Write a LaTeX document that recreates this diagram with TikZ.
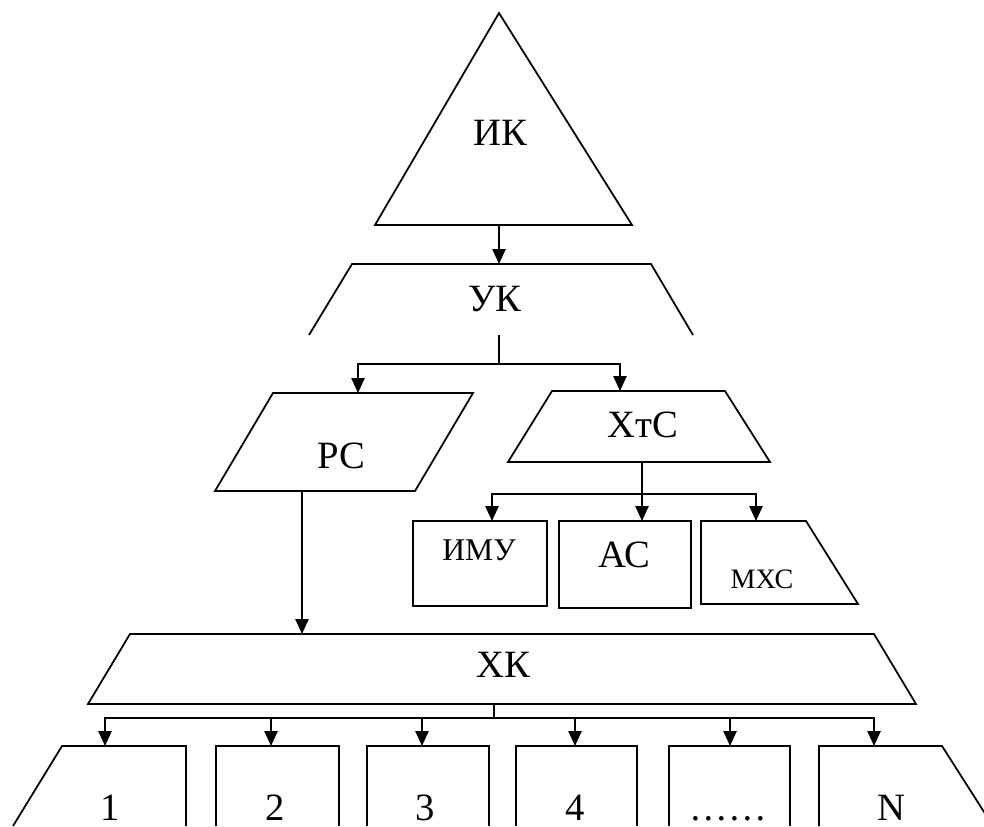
\documentclass[tikz,border=0pt]{standalone}
\usepackage{fontspec}
\setmainfont{Liberation Serif}
\usetikzlibrary{arrows.meta}

\begin{document}
\begin{tikzpicture}[x=0.02cm, y=-0.02cm, line width=1pt,
    arr/.style={-{Triangle[length=8.5pt,width=7.5pt]}},
    lbl/.style={anchor=base, font=\fontsize{22}{26}\selectfont},
    small/.style={anchor=base, font=\fontsize{18}{21}\selectfont},
    tiny/.style={anchor=base, font=\fontsize{16}{19}\selectfont}]
    \useasboundingbox (0,0) rectangle (984,826);

    % ИК triangle
    \draw (499,13) -- (632,225) -- (375,225) -- cycle;
    \node[lbl] (ik) at (500,145) {ИК};
    \coordinate (ik-s) at (499,225);

    % УК (open at the bottom)
    \draw (309,335) -- (352,264) -- (651,264) -- (693,335);
    \node[lbl] (uk) at (495,311) {УК};
    \coordinate (uk-n) at (499,264);
    \coordinate (uk-s) at (499,335);
    \coordinate (uk-j) at (499,364);

    % РС parallelogram
    \draw (273,393) -- (473,393) -- (415,491) -- (215,491) -- cycle;
    \node[lbl] (pc) at (341,468) {РС};
    \coordinate (pc-n) at (358,393);
    \coordinate (pc-s) at (302,491);

    % ХтС trapezium
    \draw (552,391) -- (725,391) -- (770,462) -- (508,462) -- cycle;
    \node[lbl] (xtc) at (643,437) {ХтС};
    \coordinate (xtc-n) at (620,391);
    \coordinate (xtc-s) at (642,462);
    \coordinate (xtc-j) at (642,494);

    % ИМУ, АС, МХС
    \draw (413,521) rectangle (547,606);
    \node[small] (imu) at (479,560) {ИМУ};
    \coordinate (imu-n) at (492,521);
    \draw (559,521) rectangle (691,608);
    \node[lbl] (ac) at (624,567) {АС};
    \coordinate (ac-n) at (642,521);
    \draw (701,521) -- (806,521) -- (858,604) -- (701,604) -- cycle;
    \node[tiny] (mxc) at (762,588) {МХС};
    \coordinate (mxc-n) at (756,521);

    % ХК trapezium
    \draw (130,634) -- (874,634) -- (916,704) -- (88,704) -- cycle;
    \node[lbl] (xk) at (503,677) {ХК};
    \coordinate (xk-n) at (302,634);
    \coordinate (xk-s) at (494,704);
    \coordinate (xk-j) at (494,718);

    % bottom row (cut by the page edge)
    \draw (13,826) -- (62,746) -- (186,746) -- (186,826);
    \draw (216,826) -- (216,746) -- (339,746) -- (339,826);
    \draw (367,826) -- (367,746) -- (489,746) -- (489,826);
    \draw (516,826) -- (516,746) -- (637,746) -- (637,826);
    \draw (669,826) -- (669,746) -- (790,746) -- (790,826);
    \draw (819,826) -- (819,746) -- (942,746) -- (993,826);
    \node[lbl] (b1) at (110,820) {1};
    \node[lbl] (b2) at (275,820) {2};
    \node[lbl] (b3) at (425,820) {3};
    \node[lbl] (b4) at (575,820) {4};
    \node[lbl] (b5) at (728,820) {……};
    \node[lbl] (bn) at (891,820) {N};
    \coordinate (b1-n) at (105,746);
    \coordinate (b2-n) at (271,746);
    \coordinate (b3-n) at (422,746);
    \coordinate (b4-n) at (575,746);
    \coordinate (b5-n) at (730,746);
    \coordinate (bn-n) at (874,746);

    % connectors
    \draw[arr] (ik-s) -- (uk-n);
    \draw (uk-s) -- (uk-j);
    \draw[arr] (uk-j) -| (pc-n);
    \draw[arr] (uk-j) -| (xtc-n);
    \draw (xtc-s) -- (xtc-j);
    \draw[arr] (xtc-j) -| (imu-n);
    \draw[arr] (xtc-j) -- (ac-n);
    \draw[arr] (xtc-j) -| (mxc-n);
    \draw[arr] (pc-s) -- (xk-n);
    \draw (xk-s) -- (xk-j);
    \draw[arr] (xk-j) -| (b1-n);
    \draw[arr] (xk-j) -| (b2-n);
    \draw[arr] (xk-j) -| (b3-n);
    \draw[arr] (xk-j) -| (b4-n);
    \draw[arr] (xk-j) -| (b5-n);
    \draw[arr] (xk-j) -| (bn-n);
\end{tikzpicture}
\end{document}
